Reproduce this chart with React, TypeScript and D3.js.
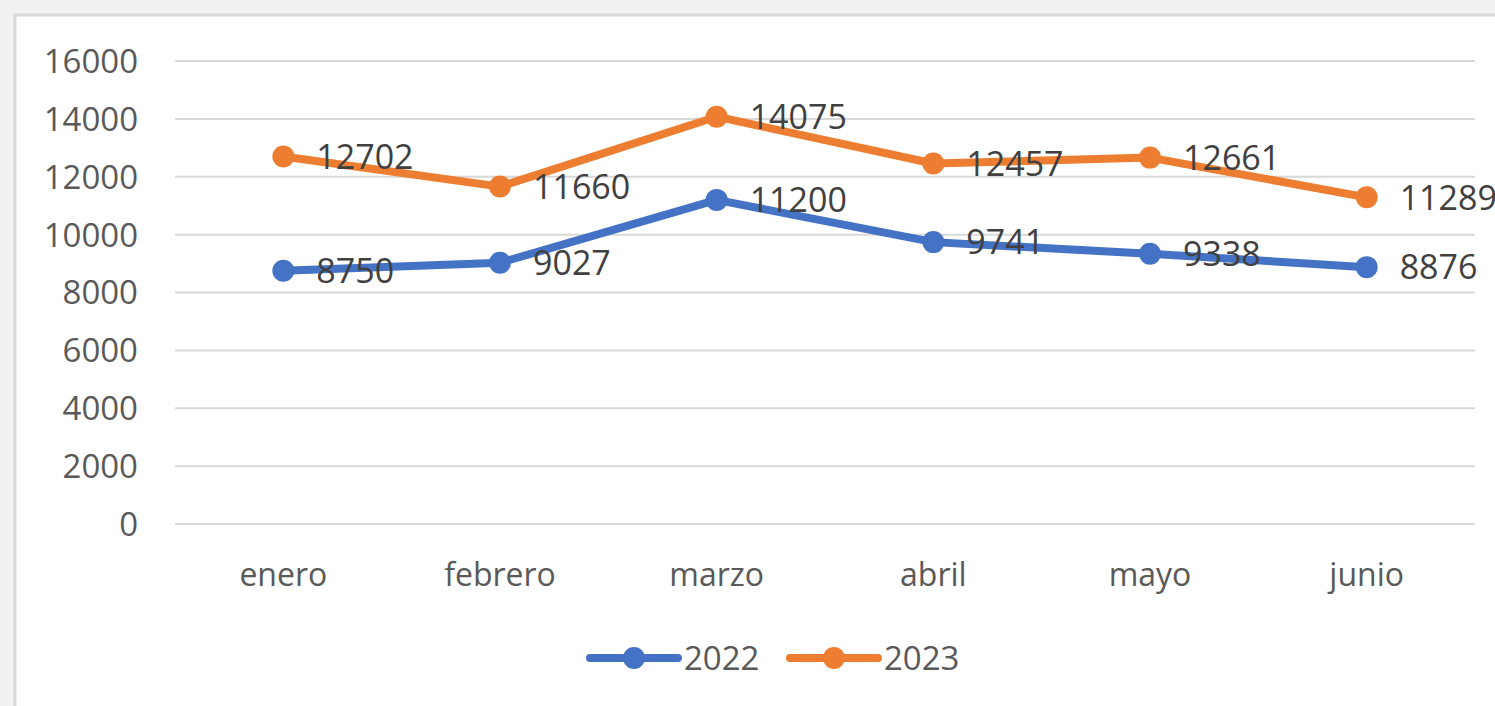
import React, { useRef, useEffect } from "react";
import * as d3 from "d3";

const months = ["enero", "febrero", "marzo", "abril", "mayo", "junio"];
const serie2022 = [8750, 9027, 11200, 9741, 9338, 8876];
const serie2023 = [12702, 11660, 14075, 12457, 12661, 11289];
const yTicks = [0, 2000, 4000, 6000, 8000, 10000, 12000, 14000, 16000];
const seriesNames = ["2022", "2023"];
const colors = ["#4472C4", "#ED7D31"];

const W = 1495;
const H = 706;

export default function App() {
  const svgRef = useRef<SVGSVGElement>(null);

  useEffect(() => {
    const svg = d3.select(svgRef.current);
    svg.selectAll("*").remove();

    // background outside the chart area
    svg.append("rect").attr("width", W).attr("height", H).attr("fill", "#f1f1f1");
    svg
      .append("rect")
      .attr("x", 15)
      .attr("y", 15)
      .attr("width", W + 20)
      .attr("height", H + 20)
      .attr("fill", "#fff")
      .attr("stroke", "#d9d9d9")
      .attr("stroke-width", 3);

    const font = "'Open Sans', 'Noto Sans', sans-serif";

    const x = d3.scaleBand().domain(months).range([175, 1475]);
    const y = d3.scaleLinear().domain([0, 16000]).range([524, 61]);

    // gridlines
    svg
      .append("g")
      .selectAll("line")
      .data(yTicks)
      .join("line")
      .attr("x1", 175)
      .attr("x2", 1475)
      .attr("y1", (d) => y(d))
      .attr("y2", (d) => y(d))
      .attr("stroke", "#d9d9d9")
      .attr("stroke-width", 2);

    // y tick labels
    svg
      .append("g")
      .selectAll("text")
      .data(yTicks)
      .join("text")
      .attr("x", 138)
      .attr("y", (d) => y(d))
      .attr("dy", "0.36em")
      .attr("text-anchor", "end")
      .attr("font-family", font)
      .attr("font-size", 33)
      .attr("fill", "#595959")
      .text((d) => String(d));

    // x labels
    svg
      .append("g")
      .selectAll("text")
      .data(months)
      .join("text")
      .attr("x", (d) => x(d)! + x.bandwidth() / 2)
      .attr("y", 574)
      .attr("dy", "0.36em")
      .attr("text-anchor", "middle")
      .attr("font-family", font)
      .attr("font-size", 32)
      .attr("fill", "#595959")
      .text((d) => d);

    const cx = (i: number) => x(months[i])! + x.bandwidth() / 2;
    const lineGen = d3
      .line<number>()
      .x((_, i) => cx(i))
      .y((d) => y(d));

    [serie2022, serie2023].forEach((vals, s) => {
      const g = svg.append("g");
      g.append("path")
        .attr("d", lineGen(vals))
        .attr("fill", "none")
        .attr("stroke", colors[s])
        .attr("stroke-width", 8)
        .attr("stroke-linejoin", "round")
        .attr("stroke-linecap", "round");
      g.selectAll("circle")
        .data(vals)
        .join("circle")
        .attr("cx", (_, i) => cx(i))
        .attr("cy", (d) => y(d))
        .attr("r", 11)
        .attr("fill", colors[s]);
      g.selectAll("text")
        .data(vals)
        .join("text")
        .attr("x", (_, i) => cx(i) + 33)
        .attr("y", (d) => y(d))
        .attr("dy", "0.36em")
        .attr("font-family", font)
        .attr("font-size", 34)
        .attr("fill", "#404040")
        .text((d) => String(d));
    });

    // legend
    const legend = svg.append("g");
    const legendX = [590, 790];
    seriesNames.forEach((name, s) => {
      const lx = legendX[s];
      legend
        .append("line")
        .attr("x1", lx)
        .attr("x2", lx + 88)
        .attr("y1", 658)
        .attr("y2", 658)
        .attr("stroke", colors[s])
        .attr("stroke-width", 8)
        .attr("stroke-linecap", "round");
      legend
        .append("circle")
        .attr("cx", lx + 44)
        .attr("cy", 658)
        .attr("r", 11)
        .attr("fill", colors[s]);
      legend
        .append("text")
        .attr("x", lx + 94)
        .attr("y", 658)
        .attr("dy", "0.36em")
        .attr("font-family", font)
        .attr("font-size", 33)
        .attr("fill", "#595959")
        .text(name);
    });
  }, []);

  return (
    <svg
      ref={svgRef}
      width={W}
      height={H}
      style={{ position: "fixed", top: 0, left: 0, display: "block" }}
    />
  );
}
